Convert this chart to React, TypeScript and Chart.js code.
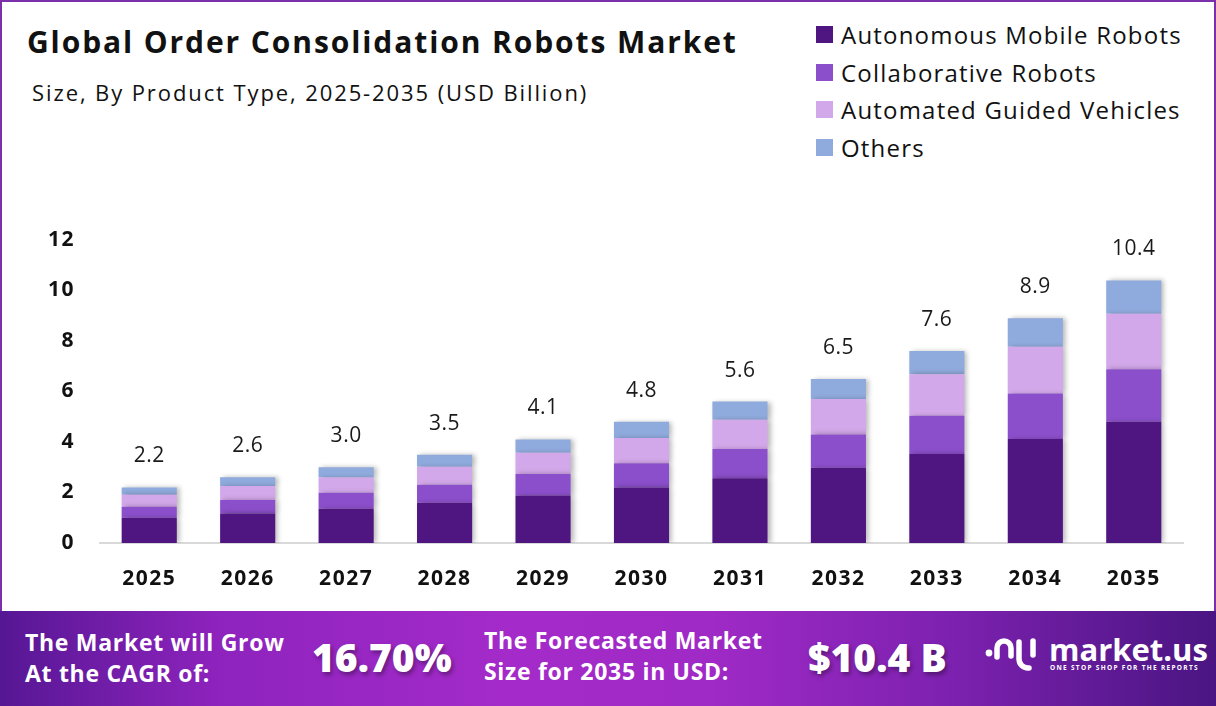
import React, { useEffect, useRef } from "react";
import { Chart, registerables } from "chart.js";

Chart.register(...registerables);

const years = ["2025", "2026", "2027", "2028", "2029", "2030", "2031", "2032", "2033", "2034", "2035"];
const amr = [1.0, 1.17, 1.36, 1.59, 1.88, 2.2, 2.56, 2.98, 3.52, 4.12, 4.8];
const collab = [0.44, 0.53, 0.63, 0.72, 0.85, 0.96, 1.16, 1.32, 1.52, 1.8, 2.08];
const agv = [0.47, 0.56, 0.6, 0.71, 0.84, 1.0, 1.16, 1.4, 1.64, 1.85, 2.2];
const others = [0.29, 0.34, 0.41, 0.48, 0.53, 0.64, 0.72, 0.8, 0.92, 1.13, 1.32];
const totals = [2.2, 2.6, 3.0, 3.5, 4.1, 4.8, 5.6, 6.5, 7.6, 8.9, 10.4];
const seriesNames = ["Autonomous Mobile Robots", "Collaborative Robots", "Automated Guided Vehicles", "Others"];
const seriesColors = ["#4F1580", "#8C4FCB", "#D3A8EA", "#8FAADC"];
const yTicks = [0, 2, 4, 6, 8, 10, 12];

const FONT = "'Open Sans', 'DejaVu Sans', sans-serif";

const shadowPlugin = {
  id: "barShadow",
  beforeDatasetsDraw(chart: any) {
    const ctx = chart.ctx;
    ctx.save();
    ctx.shadowColor = "rgba(0,0,0,0.28)";
    ctx.shadowBlur = 5;
    ctx.shadowOffsetX = 3;
    ctx.shadowOffsetY = 0;
  },
  afterDatasetsDraw(chart: any) {
    chart.ctx.restore();
  },
};

const spacingPlugin = {
  id: "tickSpacing",
  beforeDraw(chart: any) {
    chart.ctx.letterSpacing = "1.5px";
  },
  afterDraw(chart: any) {
    chart.ctx.letterSpacing = "0px";
  },
};

const totalsPlugin = {
  id: "totalsLabels",
  afterDatasetsDraw(chart: any) {
    const ctx = chart.ctx;
    const meta = chart.getDatasetMeta(chart.data.datasets.length - 1);
    const yScale = chart.scales.y;
    ctx.save();
    ctx.font = `400 21px ${FONT}`;
    ctx.letterSpacing = "0.5px";
    ctx.fillStyle = "#1a1a1a";
    ctx.textAlign = "center";
    ctx.textBaseline = "middle";
    meta.data.forEach((bar: any, i: number) => {
      const y = yScale.getPixelForValue(totals[i]);
      ctx.fillText(totals[i].toFixed(1), bar.x, y - 31);
    });
    ctx.restore();
  },
};

function BarChart() {
  const ref = useRef<HTMLCanvasElement | null>(null);
  useEffect(() => {
    if (!ref.current) return;
    const data = [amr, collab, agv, others];
    const chart = new Chart(ref.current, {
      type: "bar",
      data: {
        labels: years,
        datasets: data.map((d, i) => ({
          label: seriesNames[i],
          data: d,
          backgroundColor: seriesColors[i],
          borderWidth: 0,
          barPercentage: 0.56,
          categoryPercentage: 1.0,
        })),
      },
      options: {
        animation: false,
        responsive: false,
        maintainAspectRatio: false,
        layout: { padding: { top: 40, right: 17, left: 0, bottom: 0 } },
        plugins: {
          legend: { display: false },
          tooltip: { enabled: false },
        },
        scales: {
          x: {
            stacked: true,
            grid: { display: false, drawTicks: false },
            border: { display: true, color: "#d9d9d9", width: 2 },
            ticks: {
              padding: 23,
              color: "#111",
              font: { family: FONT, size: 21, weight: "bold" as any },
            },
            afterFit(scale: any) {
              scale.height = 57;
            },
          },
          y: {
            stacked: true,
            min: 0,
            max: 12,
            grid: { display: false, drawTicks: false },
            border: { display: false },
            afterBuildTicks(scale: any) {
              scale.ticks = yTicks.map((v) => ({ value: v }));
            },
            ticks: {
              padding: 25,
              color: "#111",
              font: { family: FONT, size: 21, weight: "bold" as any },
            },
            afterFit(scale: any) {
              scale.width = 70;
            },
          },
        },
      },
      plugins: [spacingPlugin, shadowPlugin, totalsPlugin],
    });
    return () => chart.destroy();
  }, []);
  return (
    <canvas
      ref={ref}
      width={1170}
      height={400}
      style={{ position: "absolute", left: 30, top: 200, width: 1170, height: 400 }}
    />
  );
}

function Logo() {
  return (
    <div style={{ position: "absolute", left: 982, top: 634, width: 230, height: 50 }}>
      <svg width="60" height="44" viewBox="0 0 60 44" style={{ position: "absolute", left: 0, top: 0 }}>
        <circle cx="7" cy="19" r="3.4" fill="#fff" />
        <path d="M15 23 V14 A7 7 0 0 1 29 14 V22" stroke="#fff" strokeWidth="5.5" fill="none" strokeLinecap="round" />
        <path d="M37 8 V25 A9 9 0 0 0 46 34 H47" stroke="#fff" strokeWidth="5.5" fill="none" strokeLinecap="round" />
        <path d="M51 7 V21" stroke="#fff" strokeWidth="5.5" strokeLinecap="round" />
      </svg>
      <div
        style={{
          position: "absolute",
          left: 67,
          top: -6,
          fontFamily: FONT,
          fontWeight: 700,
          fontSize: 31,
          color: "#fff",
          whiteSpace: "nowrap",
        }}
      >
        market.us
      </div>
      <div
        style={{
          position: "absolute",
          left: 68,
          top: 29,
          fontFamily: FONT,
          fontWeight: 700,
          fontSize: 6.5,
          color: "#fff",
          letterSpacing: 1.3,
          whiteSpace: "nowrap",
        }}
      >
        ONE STOP SHOP FOR THE REPORTS
      </div>
    </div>
  );
}

export default function App() {
  useEffect(() => {
    document.body.style.margin = "0";
  }, []);
  const bannerText: React.CSSProperties = {
    position: "absolute",
    fontFamily: FONT,
    fontWeight: 700,
    fontSize: 23,
    lineHeight: "31px",
    letterSpacing: 0.7,
    color: "#fff",
    whiteSpace: "nowrap",
  };
  const bigText: React.CSSProperties = {
    position: "absolute",
    fontFamily: FONT,
    fontWeight: 800,
    fontSize: 39,
    color: "#fff",
    whiteSpace: "nowrap",
    textShadow: "2px 3px 4px rgba(0,0,0,0.35)",
  };
  return (
    <div
      style={{
        position: "fixed",
        left: 0,
        top: 0,
        width: 1216,
        height: 706,
        background: "#fff",
        overflow: "hidden",
      }}
    >
      <div
        style={{
          position: "absolute",
          left: 0,
          top: 0,
          width: 1216,
          height: 706,
          boxSizing: "border-box",
          border: "2px solid #7B2FA8",
          borderBottom: "none",
        }}
      />
      <div
        style={{
          position: "absolute",
          left: 27,
          top: 21,
          fontFamily: FONT,
          fontWeight: 700,
          fontSize: 30,
          letterSpacing: 1.9,
          color: "#111",
          whiteSpace: "nowrap",
        }}
      >
        Global Order Consolidation Robots Market
      </div>
      <div
        style={{
          position: "absolute",
          left: 32,
          top: 77,
          fontFamily: FONT,
          fontWeight: 400,
          fontSize: 22,
          letterSpacing: 1.9,
          color: "#111",
          whiteSpace: "nowrap",
        }}
      >
        Size, By Product Type, 2025-2035 (USD Billion)
      </div>
      <div style={{ position: "absolute", left: 816, top: 16 }}>
        {seriesNames.map((n, i) => (
          <div key={n} style={{ display: "flex", alignItems: "center", height: 37.5 }}>
            <div style={{ width: 17, height: 17, background: seriesColors[i], marginRight: 8 }} />
            <div style={{ fontFamily: FONT, fontSize: 24, letterSpacing: 1.2, color: "#111", whiteSpace: "nowrap" }}>
              {n}
            </div>
          </div>
        ))}
      </div>
      <BarChart />
      <div
        style={{
          position: "absolute",
          left: 0,
          top: 611,
          width: 1216,
          height: 95,
          background:
            "linear-gradient(90deg, #561794 0%, #8e23bd 18%, #a42bc9 42%, #a02ac6 58%, #7d21b0 78%, #4a1582 100%)",
        }}
      >
        <div style={{ ...bannerText, left: 25, top: 16 }}>
          The Market will Grow
          <br />
          At the CAGR of:
        </div>
        <div style={{ ...bigText, left: 312, top: 19 }}>16.70%</div>
        <div style={{ ...bannerText, left: 484, top: 14 }}>
          The Forecasted Market
          <br />
          Size for 2035 in USD:
        </div>
        <div style={{ ...bigText, left: 808, top: 19 }}>$10.4 B</div>
      </div>
      <Logo />
    </div>
  );
}
